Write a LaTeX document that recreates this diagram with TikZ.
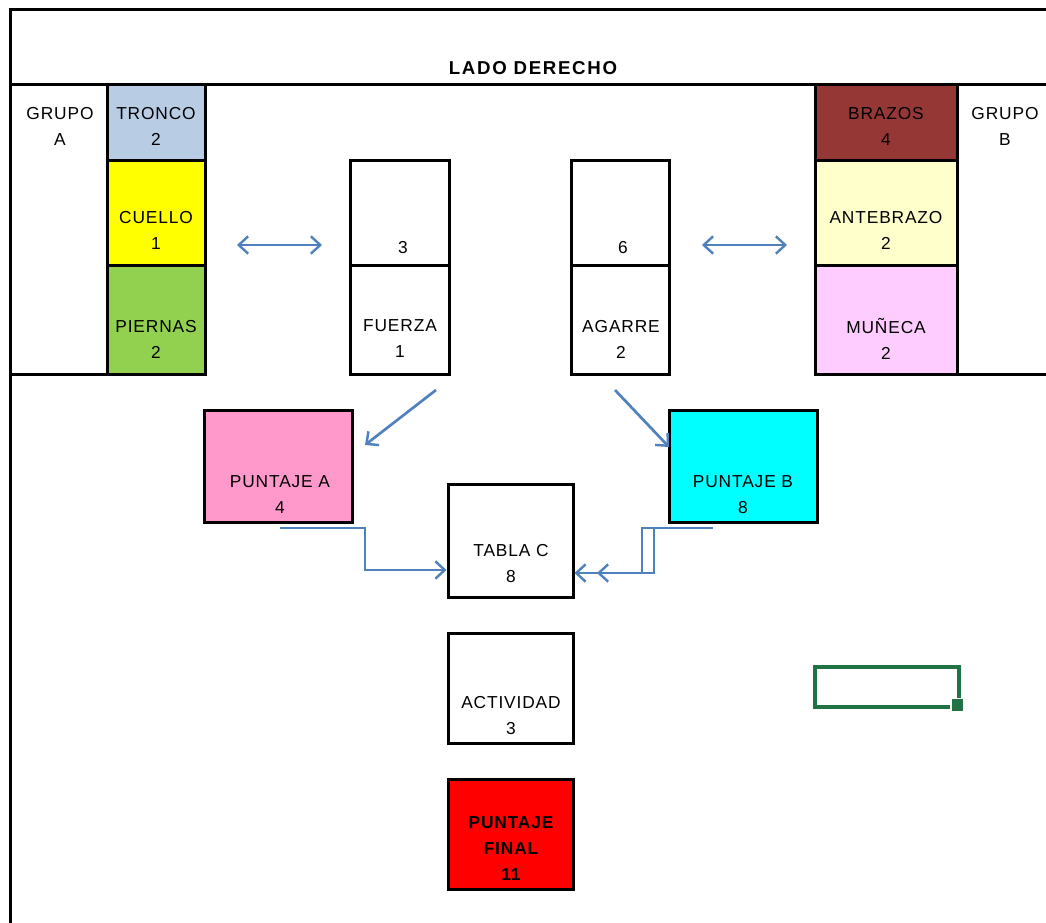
\documentclass[tikz,border=0pt]{standalone}
\usepackage{fontspec}
\setmainfont{Liberation Sans}
\newfontfamily\cellfont[LetterSpace=5]{Liberation Sans}
\newfontfamily\headfont[LetterSpace=9]{Liberation Sans}
\usetikzlibrary{arrows.meta}

\definecolor{troncoblue}{RGB}{184,204,228}
\definecolor{cuelloyellow}{RGB}{255,255,0}
\definecolor{piernasgreen}{RGB}{146,208,80}
\definecolor{brazosred}{RGB}{149,55,53}
\definecolor{antebrazoyellow}{RGB}{255,255,204}
\definecolor{munecapink}{RGB}{255,204,255}
\definecolor{puntajeapink}{RGB}{255,153,204}
\definecolor{puntajebcyan}{RGB}{0,255,255}
\definecolor{finalred}{RGB}{255,0,0}
\definecolor{linkblue}{RGB}{79,129,189}
\definecolor{selgreen}{RGB}{33,115,70}

\tikzset{
  cell/.style={draw=black, line width=2.25pt, inner sep=0pt},
  sz/.style n args={2}{minimum width=#1*0.75pt, minimum height=#2*0.75pt},
  lbl/.style={font=\cellfont\fontsize{13}{19.5}\selectfont, align=center, inner sep=0pt},
  boldlbl/.style={lbl, font=\cellfont\fontsize{13}{19.5}\selectfont\bfseries},
  frameline/.style={line width=2.25pt, line cap=rect},
  barb/.tip={Straight Barb[length=7pt,width=13pt,line width=1.8pt]},
  link/.style={draw=linkblue, line width=2pt, line join=miter, -barb},
  twoway/.style={link, barb-barb},
}

\begin{document}
\begin{tikzpicture}[x=0.75pt, y=-0.75pt]
\useasboundingbox[fill=white] (0,0) rectangle (1046,922);

% sheet frame and header row
\draw[frameline] (1046,9) -- (10,9) -- (10,922);
\draw[frameline] (10,84) -- (1046,84);
\draw[frameline] (10,374) -- (107,374);
\draw[frameline] (957,374) -- (1046,374);
\node[font=\headfont\fontsize{14}{16}\selectfont\bfseries, inner sep=0pt] (title) at (533,68) {LADO DERECHO};

% group labels
\node[lbl] (grupoA) at (60,126.5) {GRUPO\\A};
\node[lbl] (grupoB) at (1005,126.5) {GRUPO\\B};

% group A column
\node[cell, fill=troncoblue, sz={98}{76}] (tronco) at (156,122) {};
\node[cell, fill=cuelloyellow, sz={98}{105}] (cuello) at (156,212.5) {};
\node[cell, fill=piernasgreen, sz={98}{109}] (piernas) at (156,319.5) {};
\node[lbl] (troncoT) at (156,126.5) {TRONCO\\2};
\node[lbl] (cuelloT) at (156,230) {CUELLO\\1};
\node[lbl] (piernasT) at (156,339) {PIERNAS\\2};

% group B column
\node[cell, fill=brazosred, sz={142}{76}] (brazos) at (886,122) {};
\node[cell, fill=antebrazoyellow, sz={142}{105}] (antebrazo) at (886,212.5) {};
\node[cell, fill=munecapink, sz={142}{109}] (muneca) at (886,319.5) {};
\node[lbl] (brazosT) at (886,126.5) {BRAZOS\\4};
\node[lbl] (antebrazoT) at (886,230) {ANTEBRAZO\\2};
\node[lbl] (munecaT) at (886,339) {MUÑECA\\2};

% force and grip columns
\node[cell, fill=white, sz={99}{105}] (fuerzaval) at (399.5,212.5) {};
\node[cell, fill=white, sz={99}{109}] (fuerza) at (399.5,319.5) {};
\node[cell, fill=white, sz={98}{105}] (agarreval) at (620,212.5) {};
\node[cell, fill=white, sz={98}{109}] (agarre) at (620,319.5) {};
\node[lbl] (fuerzavalT) at (403,248) {3};
\node[lbl] (agarrevalT) at (623,248) {6};
\node[lbl] (fuerzaT) at (400,339) {FUERZA\\1};
\node[lbl] (agarreT) at (621,339) {AGARRE\\2};

% scores
\node[cell, fill=puntajeapink, sz={148}{112}] (puntajeA) at (278,466) {};
\node[cell, fill=puntajebcyan, sz={148}{112}] (puntajeB) at (743,466) {};
\node[cell, fill=white, sz={125}{113}] (tablaC) at (510.5,540.5) {};
\node[cell, fill=white, sz={125}{110}] (actividad) at (510.5,688) {};
\node[cell, fill=finalred, sz={125}{110}] (final) at (510.5,834) {};
\node[lbl] (puntajeAT) at (280,495) {PUNTAJE A\\4};
\node[lbl] (puntajeBT) at (743,495) {PUNTAJE B\\8};
\node[lbl] (tablaCT) at (511,564) {TABLA C\\8};
\node[lbl] (actividadT) at (511,716) {ACTIVIDAD\\3};
\node[boldlbl] (finalT) at (511,849) {PUNTAJE\\FINAL\\11};

% selected cell
\node[draw=selgreen, line width=2.6pt, sz={144}{40}, inner sep=0pt] (selection) at (887,687) {};
\node[fill=selgreen, draw=white, line width=0.8pt, sz={13}{13}, inner sep=0pt] (handle) at (957.5,705) {};

% connector end points
\coordinate (la1) at (237,245);
\coordinate (la2) at (322,245);
\coordinate (lb1) at (702,245);
\coordinate (lb2) at (787,245);
\coordinate (fa) at (436,390);
\coordinate (fb) at (365,445);
\coordinate (ga) at (615,390);
\coordinate (gb) at (669,447);
\coordinate (pa) at (280,528);
\coordinate (pb) at (713,528);
\coordinate (pb2) at (654,528);
\coordinate (tc2) at (597,573);

% connectors
\draw[twoway] (la1) -- (la2);
\draw[twoway] (lb1) -- (lb2);
\draw[link] (fa) -- (fb);
\draw[link] (ga) -- (gb);
\draw[link] (pa) -- (365,528) -- (365,570) -- (tablaC.west |- 0,570);
\draw[link] (pb) -- (642,528) -- (642,573) -- (tablaC.east |- 0,573);
\draw[link] (pb2) -- (654,573) -- (tc2);
\end{tikzpicture}
\end{document}
